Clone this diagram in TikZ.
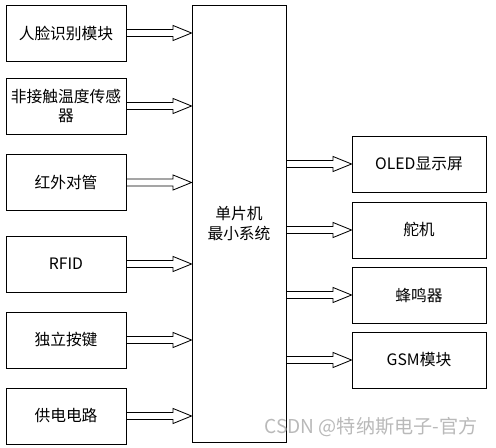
\documentclass[tikz,border=0pt]{standalone}
\usepackage{fontspec}
\setmainfont{Noto Sans CJK SC}
\usetikzlibrary{calc}

\begin{document}
\begin{tikzpicture}[x=0.025cm,y=-0.025cm,
    box/.style={draw,line width=0.6pt,minimum width=3cm,minimum height=1.4cm,
      inner sep=0pt,align=center,font=\fontsize{11.2}{14}\selectfont},
    outbox/.style={box,minimum width=3.35cm},
    barrow/.style={line width=0.6pt,to path={
      ($(\tikztostart)+(0,-3.5)$) -- ($(\tikztotarget)+(-18.5,-3.5)$)
      -- ($(\tikztotarget)+(-18.5,-7.5)$) -- (\tikztotarget)
      -- ($(\tikztotarget)+(-18.5,7.5)$) -- ($(\tikztotarget)+(-18.5,3.5)$)
      -- ($(\tikztostart)+(0,3.5)$)}}]
  \useasboundingbox (0,0) rectangle (496,448);
  % inputs
  \node[box] (face) at (66,33) {人脸识别模块};
  \node[box] (temp) at (66,106) {非接触温度传感\\器};
  \node[box] (ir) at (66,182.5) {红外对管};
  \node[box] (rfid) at (66,264) {RFID};
  \node[box] (key) at (66,340) {独立按键};
  \node[box] (power) at (66,416) {供电电路};
  % MCU
  \node[box,minimum width=2.35cm,minimum height=10.925cm] (mcu) at (239,223.5)
    {单片机\\最小系统};
  % outputs
  \node[outbox] (oled) at (419,164) {OLED显示屏};
  \node[outbox] (servo) at (419,230) {舵机};
  \node[outbox] (buzzer) at (419,295) {蜂鸣器};
  \node[outbox] (gsm) at (419,360) {GSM模块};
  \foreach \n in {face,temp,ir,rfid,key,power}
    \draw[barrow] (\n.east) to (mcu.west |- \n.east);
  \foreach \n in {oled,servo,buzzer,gsm}
    \draw[barrow] (mcu.east |- \n.west) to (\n.west);
  % watermark
  \node[gray!55,font=\fontsize{13.6}{16}\selectfont] (mark) at (371,427)
    {CSDN @特纳斯电子-官方};
\end{tikzpicture}
\end{document}
